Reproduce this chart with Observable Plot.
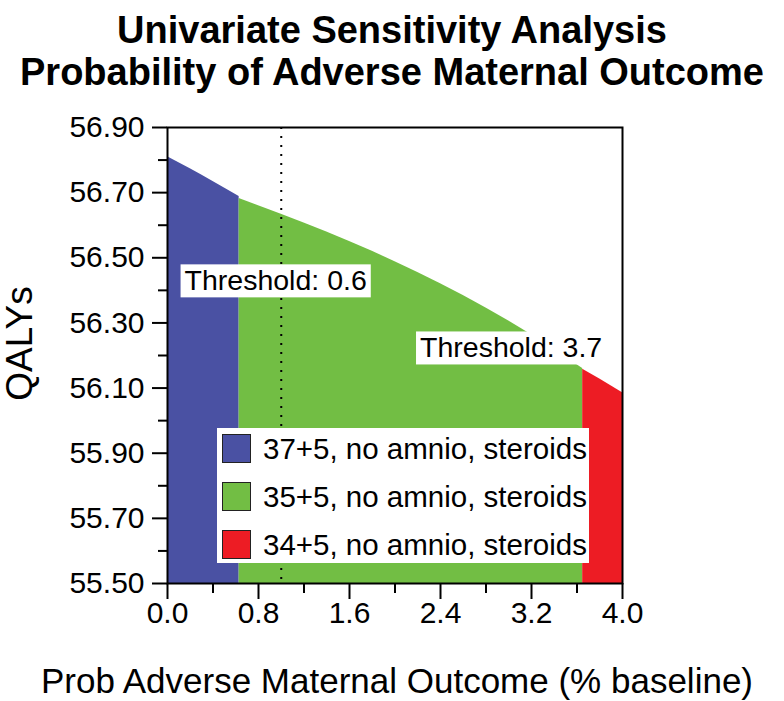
<!DOCTYPE html>
<html><head><meta charset="utf-8">
<script src="https://cdn.jsdelivr.net/npm/d3@7"></script>
<script src="https://cdn.jsdelivr.net/npm/@observablehq/plot@0.6"></script>
<style>
body{margin:0;background:#fff;font-family:"Liberation Sans",Arial,sans-serif;}
#wrap{position:relative;width:784px;height:701px;overflow:hidden;}
#title{position:absolute;left:0;top:9px;width:784px;text-align:center;font-weight:bold;font-size:38px;line-height:42px;color:#000;}
#legend{position:absolute;left:217px;top:428px;width:372px;height:135px;background:#fff;}
.row{position:absolute;left:5px;height:29px;display:flex;align-items:center;}
.sw{width:27px;height:27px;border:1px solid #222;margin-right:12px;}
.lt{font-size:29.5px;color:#000;white-space:nowrap;}
</style></head><body>
<div id="wrap">
<div id="chart"></div>
<div id="title">Univariate Sensitivity Analysis<br>Probability of Adverse Maternal Outcome</div>
<div id="legend"></div>
</div>
<script>
// ---- data ----
const strategies = ["37+5, no amnio, steroids", "35+5, no amnio, steroids", "34+5, no amnio, steroids"];
const colors = ["#4a51a3", "#72be44", "#ed1c24"];

const blueX = [0, 0.1, 0.2, 0.3, 0.4, 0.5, 0.63];
const blueY = [56.810, 56.792, 56.773, 56.754, 56.734, 56.714, 56.688];

const greenX = [0.63, 0.8, 1.0, 1.2, 1.4, 1.6, 1.8, 2.0, 2.2, 2.4, 2.6, 2.8, 3.0, 3.2, 3.4, 3.65];
const greenY = [56.682, 56.660, 56.634, 56.607, 56.579, 56.550, 56.520, 56.488, 56.455, 56.420, 56.384, 56.346, 56.306, 56.264, 56.218, 56.160];

const redX = [3.65, 3.8, 4.0];
const redY = [56.158, 56.128, 56.086];

const xTicks = [0, 0.8, 1.6, 2.4, 3.2, 4.0];
const xMinorTicks = [0.4, 1.2, 2.0, 2.8, 3.6];
const yTicks = [55.5, 55.7, 55.9, 56.1, 56.3, 56.5, 56.7, 56.9];
const yMinorTicks = [55.6, 55.8, 56.0, 56.2, 56.4, 56.6, 56.8];

const baselineValue = [1.0];
const thresholdLabels = ["Threshold: 0.6", "Threshold: 3.7"];
const thresholdLabelX = [0.15, 2.22];
const thresholdLabelY = [56.428, 56.222];

const xTitle = "Prob Adverse Maternal Outcome (% baseline)";
const yTitle = "QALYs";

// ---- build ----
const xDomain = [0, 4];
const yDomain = [55.5, 56.9];
const seriesX = [blueX, greenX, redX];
const seriesY = [blueY, greenY, redY];
const rows = [];
strategies.forEach((s, i) => seriesX[i].forEach((x, j) => rows.push({strategy: s, x, y: seriesY[i][j]})));
const labels = thresholdLabels.map((t, i) => ({text: t, x: thresholdLabelX[i], y: thresholdLabelY[i]}));

const font = "'Liberation Sans', Arial, sans-serif";

const plot = Plot.plot({
  width: 784,
  height: 701,
  marginLeft: 167,
  marginRight: 162,
  marginTop: 127,
  marginBottom: 118,
  style: {fontFamily: font, background: "transparent", color: "#000"},
  x: {domain: xDomain},
  y: {domain: yDomain},
  color: {domain: strategies, range: colors},
  marks: [
    Plot.areaY(rows, {x: "x", y1: yDomain[0], y2: "y", z: "strategy", fill: "strategy", curve: "linear"}),
    Plot.ruleX(baselineValue, {stroke: "#000", strokeWidth: 2, strokeDasharray: "2,7"}),
    Plot.text(labels, {x: "x", y: "y", text: "text", textAnchor: "start", fontSize: 28.5, fill: "#000"}),
    Plot.axisY({ticks: yTicks, tickSize: 15, tickPadding: 8, tickFormat: d3.format(".2f"), fontSize: 30, strokeWidth: 2, label: null}),
    Plot.axisY({ticks: yMinorTicks, tickSize: 9, tickFormat: () => "", strokeWidth: 2, label: null}),
    Plot.axisX({ticks: xTicks, tickSize: 16, tickPadding: 2, tickFormat: d3.format(".1f"), fontSize: 30, strokeWidth: 2, label: null}),
    Plot.axisX({ticks: xMinorTicks, tickSize: 10, tickFormat: () => "", strokeWidth: 2, label: null}),
    Plot.frame({stroke: "#000", strokeWidth: 2}),
    Plot.text([yTitle], {frameAnchor: "left", textAnchor: "middle", lineAnchor: "middle", dx: -147, dy: -12, rotate: -90, fontSize: 37, fill: "#000"}),
    Plot.text([xTitle], {frameAnchor: "bottom", textAnchor: "middle", lineAnchor: "middle", dy: 98, dx: 2, fontSize: 35, fill: "#000"})
  ]
});
document.getElementById("chart").appendChild(plot);

// white boxes behind threshold labels
plot.querySelectorAll("text").forEach(t => {
  if (thresholdLabels.includes(t.textContent)) {
    const bb = t.getBBox();
    const r = document.createElementNS("http://www.w3.org/2000/svg", "rect");
    r.setAttribute("x", bb.x - 4);
    r.setAttribute("y", bb.y);
    r.setAttribute("width", bb.width + 8);
    r.setAttribute("height", bb.height + 1);
    r.setAttribute("fill", "#fff");
    if (t.getAttribute("transform")) r.setAttribute("transform", t.getAttribute("transform"));
    t.parentNode.insertBefore(r, t);
  }
});

// legend
const legend = document.getElementById("legend");
strategies.forEach((s, i) => {
  const row = document.createElement("div");
  row.className = "row";
  row.style.top = (6 + i * 48) + "px";
  const sw = document.createElement("div");
  sw.className = "sw";
  sw.style.background = colors[i];
  const lt = document.createElement("div");
  lt.className = "lt";
  lt.textContent = s;
  row.appendChild(sw); row.appendChild(lt);
  legend.appendChild(row);
});
</script>
</body></html>
